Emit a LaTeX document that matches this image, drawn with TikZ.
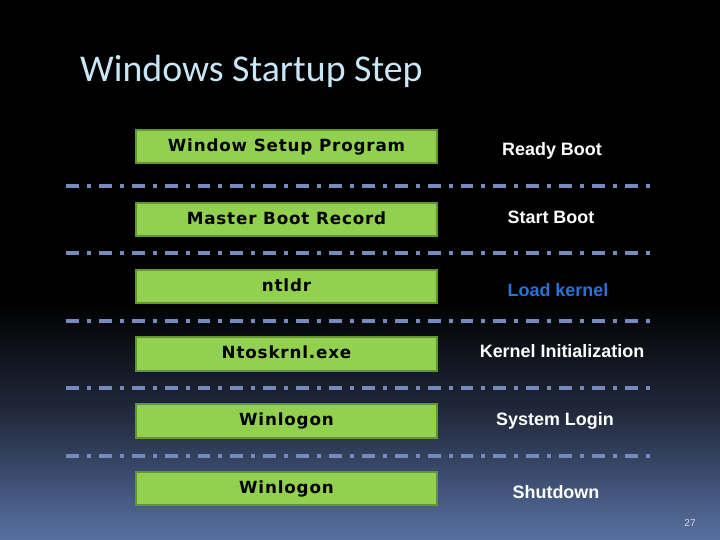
\documentclass[tikz,border=0pt]{standalone}
\usepackage{fontspec}
\setmainfont{Liberation Sans}
\newfontfamily\titlefont{Carlito}
\newfontfamily\boxfont[LetterSpace=5]{DejaVu Sans}
\definecolor{bgbot}{RGB}{88,112,162}
\definecolor{bgmid}{RGB}{32,40,58}
\definecolor{titlecol}{RGB}{200,230,246}
\definecolor{boxfill}{RGB}{146,208,80}
\definecolor{boxline}{RGB}{98,150,48}
\definecolor{sepcol}{RGB}{118,138,190}
\definecolor{bluetext}{RGB}{40,115,215}
\definecolor{numcol}{RGB}{215,220,230}
\tikzset{
  stepbox/.style={draw=boxline, line width=2pt, fill=boxfill, minimum width=302pt, minimum height=34pt, inner sep=0pt, text height=12pt, text depth=2pt, font=\boxfont\bfseries\fontsize{16.8}{18}\selectfont, text=black},
  rlabel/.style={text=white, font=\bfseries\fontsize{18}{20}\selectfont, inner sep=0pt, text height=13pt, text depth=4pt},
  sepline/.style={draw=sepcol, line width=4pt, dash pattern=on 13pt off 8pt on 4pt off 8pt}
}
\begin{document}
\begin{tikzpicture}[x=1bp,y=-1bp]
\useasboundingbox (0,0) rectangle (720,540);
\fill[black] (0,0) rectangle (720,301);
\shade[top color=black, bottom color=bgmid] (0,300) rectangle (720,411);
\shade[top color=bgmid, bottom color=bgbot] (0,410) rectangle (720,540);
\node[anchor=base west, text=titlecol, font=\titlefont\fontsize{38}{42}\selectfont, inner sep=0pt] (title) at (80,82) {Windows Startup Step};
% boxes
\node[stepbox] (b1) at (286.5,146.5) {Window Setup Program};
\node[stepbox] (b2) at (286.5,219.5) {Master Boot Record};
\node[stepbox] (b3) at (286.5,286.5) {ntldr};
\node[stepbox] (b4) at (286.5,354) {Ntoskrnl.exe};
\node[stepbox] (b5) at (286.5,421) {Winlogon};
\node[stepbox] (b6) at (286.5,488.5) {Winlogon};
% right labels
\node[rlabel] (l1) at (552,151) {Ready Boot};
\node[rlabel] (l2) at (551,219) {Start Boot};
\node[rlabel, text=bluetext] (l3) at (558,292) {Load kernel};
\node[rlabel] (l4) at (562,353) {Kernel Initialization};
\node[rlabel] (l5) at (555,421) {System Login};
\node[rlabel] (l6) at (556,494) {Shutdown};
% separators
\foreach \yy [count=\i] in {186,253,321,388,456}{
  \coordinate (s\i a) at (66,\yy);
  \coordinate (s\i b) at (656,\yy);
  \draw[sepline] (s\i a) -- (s\i b);
}
\node[text=numcol, font=\fontsize{10}{12}\selectfont, inner sep=0pt] (num) at (690,523) {27};
\end{tikzpicture}
\end{document}
